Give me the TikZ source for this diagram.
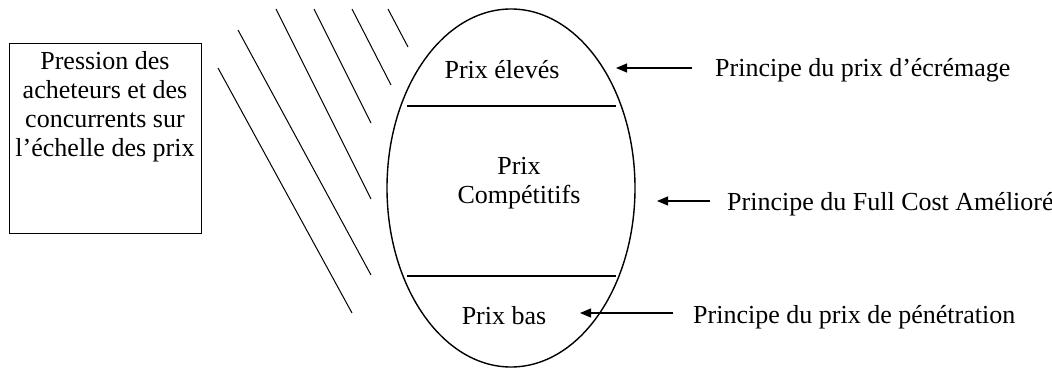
\documentclass[tikz,border=0pt]{standalone}
\usepackage{fontspec}
\setmainfont{Liberation Serif}
\usetikzlibrary{shapes.geometric,arrows.meta}
\begin{document}
\begin{tikzpicture}[x=1pt,y=-1pt,
  every node/.style={inner sep=0pt,font=\fontsize{26}{29}\selectfont},
  lbl/.style={anchor=base},
  note/.style={anchor=base west},
  frame/.style={draw,line width=1.4pt,minimum width=192pt,minimum height=190pt,anchor=north west},
  scale ellipse/.style={draw,ellipse,line width=1.4pt,minimum width=248pt,minimum height=358pt},
  band/.style={line width=1.2pt},
  hatch/.style={line width=1pt},
  arr/.style={line width=1.2pt,-{Triangle[length=11pt,width=9pt]}}]
\useasboundingbox (0,0) rectangle (1052,369);

% pressure box
\node[frame] (box) at (9,43) {};
\node[align=center] (boxtext) at (105,107) {Pression des\\acheteurs et des\\concurrents sur\\l’échelle des prix};

% hatching between the box and the price scale
\draw[hatch] (218,68) -- (352,313);
\draw[hatch] (238,30) -- (371,275);
\draw[hatch] (276,9) -- (371,199);
\draw[hatch] (314,9) -- (371,123);
\draw[hatch] (352,9) -- (391,85);
\draw[hatch] (388,9) -- (408,47);

% price scale
\node[scale ellipse] (scale) at (511,188) {};
\coordinate (b1l) at (407,106);
\coordinate (b1r) at (616,106);
\coordinate (b2l) at (407,276);
\coordinate (b2r) at (616,276);
\draw[band] (b1l) -- (b1r);
\draw[band,line width=2.2pt] (b2l) -- (b2r);

\node[lbl] (high) at (502,78) {Prix élevés};
\node[align=center] (mid) at (519,183) {Prix\\Compétitifs};
\node[lbl] (low) at (504,324) {Prix bas};

% pricing principles
\node[note] (p1) at (715,77) {Principe du prix d’écrémage};
\node[note] (p2) at (727,210) {Principe du Full Cost Amélioré};
\node[note] (p3) at (693,323) {Principe du prix de pénétration};

\coordinate (t1) at (616,68);
\coordinate (t2) at (657,201);
\coordinate (t3) at (580,313);
\draw[arr] (p1.west |- t1) ++(-23,0) -- (t1);
\draw[arr] (p2.west |- t2) ++(-17,0) -- (t2);
\draw[arr] (p3.west |- t3) ++(-20,0) -- (t3);
\end{tikzpicture}
\end{document}
